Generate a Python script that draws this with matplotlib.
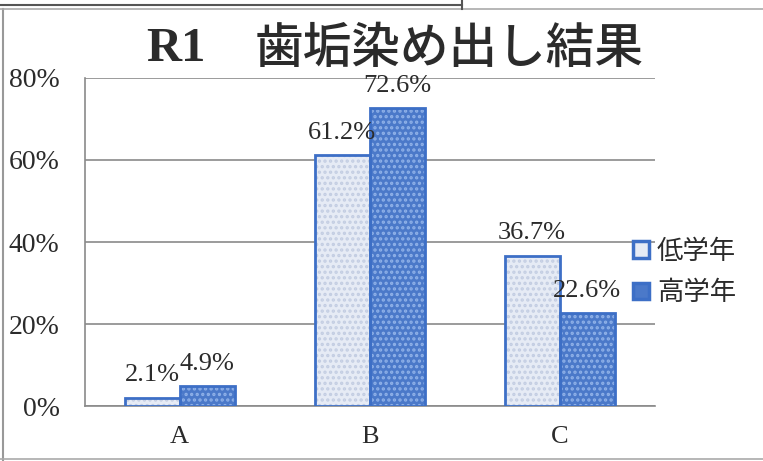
import numpy as np
import matplotlib.pyplot as plt
from matplotlib.lines import Line2D
from matplotlib.patches import Patch

categories = ["A", "B", "C"]
low_grade = [2.1, 61.2, 36.7]    # 低学年 (%)
high_grade = [4.9, 72.6, 22.6]   # 高学年 (%)
series_names = ["低学年", "高学年"]
yticks = [0, 20, 40, 60, 80]

serif = ["Liberation Serif", "Noto Sans CJK JP"]
jp = ["Noto Sans CJK JP", "DejaVu Sans"]
txt = "#2b2b2b"
edge = "#3d6fc6"

plt.rcParams["hatch.linewidth"] = 1.6

fig = plt.figure(figsize=(7.63, 4.61), dpi=100)
ax = fig.add_axes([0.111, 0.119, 0.747, 0.712])

x = np.arange(len(categories))
w = 0.29

styles = [
    dict(face="#e6ebf5", dots="#c3cde2"),
    dict(face="#4b79c9", dots="#8fb1e8"),
]
for i, vals in enumerate([low_grade, high_grade]):
    pos = x + (i - 0.5) * w
    st = styles[i]
    ax.bar(pos, vals, w, color=st["face"], edgecolor=st["dots"], hatch="...",
           linewidth=0, zorder=3)
    ax.bar(pos, vals, w, fill=False, edgecolor=edge, linewidth=2, zorder=4)
    for p, v in zip(pos, vals):
        ax.annotate(f"{v:.1f}%", (p, v), xytext=(0, 8), textcoords="offset points",
                    ha="center", va="bottom", fontsize=19, color=txt,
                    family=serif, zorder=5)

ax.set_xlim(-0.5, 2.5)
ax.set_ylim(0, 80)
ax.set_yticks(yticks)
ax.set_yticklabels([f"{t}%" for t in yticks], family=serif, fontsize=20, color=txt)
ax.set_xticks(x)
ax.set_xticklabels(categories, family=serif, fontsize=19, color=txt)
ax.tick_params(axis="y", length=0, pad=18)
ax.tick_params(axis="x", length=0, pad=14)
ax.grid(axis="y", color="#8a8a8a", linewidth=1.2, zorder=0)
ax.set_axisbelow(True)
for s in ["top", "right"]:
    ax.spines[s].set_visible(False)
for s in ["left", "bottom"]:
    ax.spines[s].set_color("#8a8a8a")
    ax.spines[s].set_linewidth(1.2)

handles = [
    Patch(facecolor=styles[0]["face"], edgecolor=edge, linewidth=2.5),
    Patch(facecolor=styles[1]["face"], edgecolor=edge, linewidth=2.5),
]
fig.legend(handles, series_names, loc="center left", bbox_to_anchor=(0.830, 0.41),
           frameon=False, prop={"family": jp, "size": 19}, handlelength=0.6,
           handleheight=0.6, handletextpad=0.3, labelspacing=0.55, labelcolor=txt,
           borderpad=0, borderaxespad=0)

# title: bold serif "R1", then the Japanese part
fig.text(0.27, 0.893, "R1", ha="right", va="center", fontsize=35, color=txt,
         family=serif, fontweight="bold")
fig.text(0.334, 0.893, "歯垢染め出し結果", ha="left", va="center", fontsize=35,
         color=txt, family=jp, fontweight="medium")

# scan frame lines
fig.add_artist(Line2D([0.004, 0.004], [0, 0.98], color="#999999", lw=1.5))
fig.add_artist(Line2D([0, 1], [0.98, 0.98], color="#aaaaaa", lw=1.2))
fig.add_artist(Line2D([0, 0.606], [0.99, 0.99], color="#555555", lw=1.5))
fig.add_artist(Line2D([0.606, 0.606], [0.98, 1], color="#555555", lw=1.5))
fig.add_artist(Line2D([0, 1], [0.004, 0.004], color="#aaaaaa", lw=1.2))

fig.savefig("out.png", dpi=100)
